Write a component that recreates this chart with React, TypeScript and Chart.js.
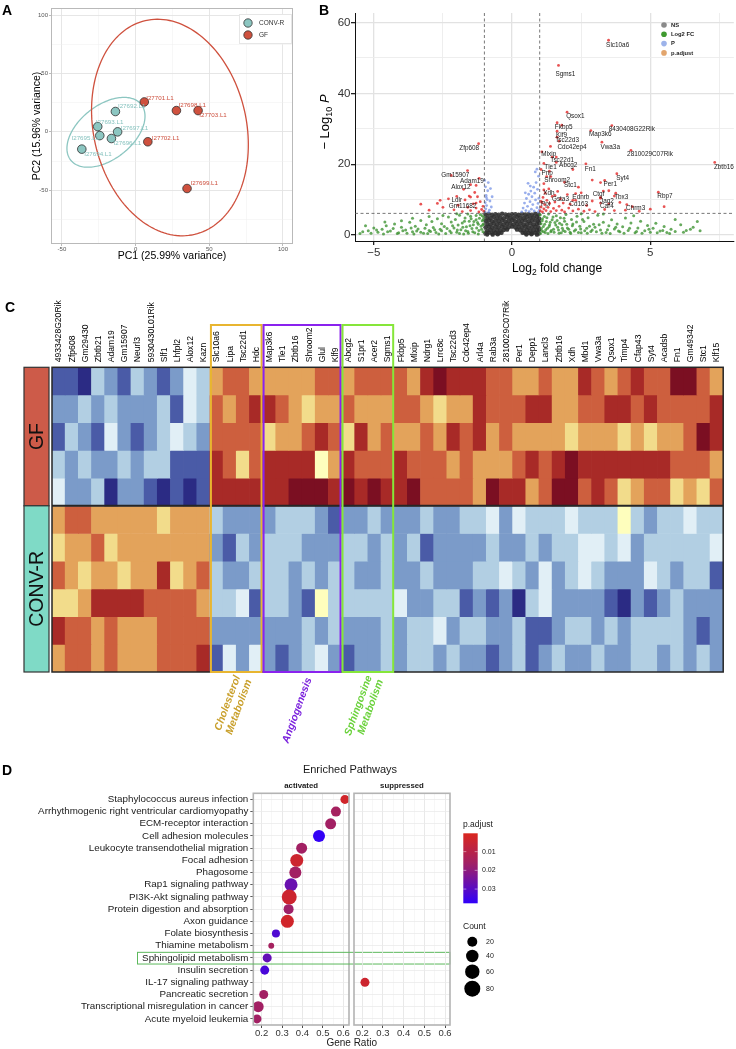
import React, { useEffect, useRef } from "react";
import { Chart, registerables } from "chart.js";

Chart.register(...registerables);

const FONT = '"Liberation Sans", Arial, Helvetica, sans-serif';

/* ================= Panel A : PCA ================= */
const PCA_CONV_NAMES = ["I27692.L1", "I27693.L1", "I27695.L1", "I27697.L1", "I27696.L1", "I27694.L1"];
const PCA_CONV_PC1 = [-13.7, -25.7, -24.3, -12.2, -16.4, -36.5];
const PCA_CONV_PC2 = [17.4, 4.5, -3.2, 0.0, -5.7, -14.8];
const PCA_CONV_LABEL_X = [-12.0, -27.0, -43.5, -10.1, -14.9, -34.9];
const PCA_CONV_LABEL_Y = [21.6, 8.3, -5.7, 3.2, -10.0, -19.1];
const PCA_GF_NAMES = ["I27701.L1", "I27698.L1", "I27703.L1", "I27702.L1", "I27699.L1"];
const PCA_GF_PC1 = [5.9, 27.7, 42.4, 8.3, 34.9];
const PCA_GF_PC2 = [25.6, 18.2, 18.2, -8.5, -48.5];
const PCA_GF_LABEL_X = [7.2, 29.1, 43.2, 11.0, 37.2];
const PCA_GF_LABEL_Y = [28.8, 22.5, 14.3, -5.1, -43.8];
const PCA_X_TICKS = [-50, -25, 0, 25, 50, 75, 100];
const PCA_Y_TICKS = [-75, -50, -25, 0, 25, 50, 75, 100];
const PCA_GROUPS = ["CONV-R", "GF"];
// confidence ellipses: centre and two semi-axis vectors (data units)
const ELLIPSE_CONV = { cx: -20.1, cy: -0.4, ax: 24.0, ay: 23.7, bx: 11.2, by: -18.2 };
const ELLIPSE_GF = { cx: 23.3, cy: 3.7, ax: 16.7, ay: -91.5, bx: 50.5, by: 14.8 };

const TEAL = "#8cc6c1";
const TEAL_TXT = "#86c2be";
const RED = "#cf513e";
const RED_TXT = "#cd4e3c";

/* ================= Panel B : volcano ================= */
const VOLC_X_TICKS = [-5, -2.5, 0, 2.5, 5, 7.5];
const VOLC_Y_TICKS = [0, 10, 20, 30, 40, 50, 60];
const FC_CUTOFF = 1;
const P_CUTOFF = 6.1;
const VOLC_LEGEND = ["NS", "Log2 FC", "P", "p.adjust"];
const VOLC_LEGEND_COLORS = ["#8a8a8a", "#3f9a2f", "#9db3ea", "#e2a56d"];

const NS_POINTS = [
  [-0.96, 5.8], [-0.84, 5.95], [-0.72, 5.7], [-0.6, 5.9], [-0.48, 5.75], [-0.36, 6.0], [-0.24, 5.8], [-0.12, 5.7], [0.0, 5.9],
  [0.12, 5.85], [0.24, 5.7], [0.36, 5.95], [0.48, 5.8], [0.6, 5.9], [0.72, 5.75], [0.84, 6.0], [0.96, 5.8],
  [-0.9, 4.9], [-0.78, 4.8], [-0.66, 5.05], [-0.54, 4.85], [-0.42, 4.95], [-0.3, 4.75], [-0.18, 5.0], [-0.06, 4.9], [0.06, 4.8],
  [0.18, 5.05], [0.3, 4.9], [0.42, 4.8], [0.54, 5.0], [0.66, 4.85], [0.78, 4.95], [0.9, 5.1], [0.98, 4.6],
  [-0.96, 4.0], [-0.84, 4.1], [-0.72, 3.9], [-0.6, 4.05], [-0.48, 3.95], [-0.36, 4.1], [-0.24, 3.85], [-0.12, 4.0], [0.0, 4.15],
  [0.12, 3.9], [0.24, 4.05], [0.36, 3.95], [0.48, 4.1], [0.6, 3.9], [0.72, 4.0], [0.84, 4.05], [0.96, 3.9],
  [-0.9, 3.1], [-0.78, 3.0], [-0.66, 3.2], [-0.54, 3.05], [-0.42, 3.15], [-0.3, 2.95], [-0.18, 3.1], [-0.06, 3.2], [0.06, 3.0],
  [0.18, 3.1], [0.3, 3.15], [0.42, 2.95], [0.54, 3.05], [0.66, 3.2], [0.78, 3.0], [0.9, 3.1], [0.98, 3.3],
  [-0.96, 2.2], [-0.84, 2.3], [-0.72, 2.1], [-0.6, 2.25], [-0.48, 2.15], [-0.36, 2.3], [-0.24, 2.05], [-0.12, 2.2], [0.0, 2.35],
  [0.12, 2.1], [0.24, 2.25], [0.36, 2.15], [0.48, 2.3], [0.6, 2.1], [0.72, 2.2], [0.84, 2.25], [0.96, 2.1],
  [-0.9, 1.3], [-0.78, 1.4], [-0.66, 1.2], [-0.54, 1.35], [-0.42, 1.25], [-0.3, 1.4], [-0.18, 1.5], [0.18, 1.5], [0.3, 1.35],
  [0.42, 1.25], [0.54, 1.4], [0.66, 1.2], [0.78, 1.3], [0.9, 1.35], [0.98, 1.5],
  [-0.96, 0.5], [-0.84, 0.6], [-0.72, 0.45], [-0.6, 0.55], [-0.48, 0.5], [-0.38, 0.65], [0.38, 0.6], [0.48, 0.5], [0.6, 0.55],
  [0.72, 0.45], [0.84, 0.6], [0.96, 0.5], [-0.9, 0.15], [-0.7, 0.1], [-0.52, 0.2], [0.52, 0.15], [0.7, 0.2], [0.9, 0.1],
];

const FC_POINTS = [
  [-5.2, 1.2], [-5.0, 2.0], [-4.85, 0.8], [-4.7, 1.6], [-4.55, 2.6], [-4.4, 1.1], [-4.25, 3.1], [-4.1, 0.6], [-4.0, 2.2],
  [-3.85, 1.4], [-3.7, 3.6], [-3.6, 0.9], [-3.5, 2.5], [-3.4, 1.7], [-3.3, 4.1], [-3.2, 0.5], [-3.1, 2.9], [-3.0, 1.3],
  [-2.9, 3.8], [-2.85, 2.1], [-2.75, 0.7], [-2.7, 4.6], [-2.6, 1.6], [-2.55, 3.2], [-2.45, 2.4], [-2.4, 0.4], [-2.3, 5.1],
  [-2.25, 1.1], [-2.2, 3.7], [-2.1, 2.0], [-2.05, 4.4], [-2.0, 0.8], [-1.95, 2.8], [-1.9, 5.6], [-1.85, 1.5], [-1.8, 3.4],
  [-1.75, 0.3], [-1.7, 4.8], [-1.65, 2.3], [-1.6, 1.0], [-1.55, 3.9], [-1.5, 5.3], [-1.45, 1.8], [-1.4, 2.9], [-1.35, 0.6],
  [-1.3, 4.3], [-1.25, 3.5], [-1.2, 1.3], [-1.15, 5.8], [-1.12, 2.5], [-1.08, 4.0], [-1.05, 0.9], [-1.03, 3.1], [-1.02, 5.0],
  [-1.6, 5.9], [-2.5, 5.5], [-3.0, 5.2], [-2.0, 6.0], [-1.3, 5.5], [-3.6, 4.7], [-4.0, 4.0], [-4.6, 3.7], [-5.4, 0.9], [-5.3, 2.6],
  [-5.5, 0.4], [-5.1, 0.5], [-4.9, 1.4], [-4.65, 0.3], [-4.5, 0.9], [-4.3, 1.8], [-4.15, 0.4], [-3.95, 1.2], [-3.8, 0.5],
  [-3.65, 2.0], [-3.55, 0.3], [-3.45, 1.1], [-3.3, 0.8], [-3.15, 1.9], [-3.05, 0.4], [-2.95, 1.0], [-2.8, 1.5], [-2.65, 0.3],
  [-2.55, 1.2], [-2.35, 1.8], [-2.2, 0.6], [-2.15, 2.6], [-1.98, 1.4], [-1.9, 0.4], [-1.78, 2.2], [-1.68, 1.2], [-1.58, 0.5],
  [-1.52, 2.6], [-1.42, 0.9], [-1.38, 3.8], [-1.28, 2.0], [-1.22, 0.3], [-1.18, 4.7], [-1.1, 1.6], [-1.06, 2.9], [-1.04, 4.4],
  [-1.08, 5.4], [-1.22, 3.0], [-1.48, 4.6], [-1.72, 3.9],
  [1.02, 5.7], [1.05, 3.2], [1.08, 1.1], [1.1, 4.6], [1.13, 2.4], [1.17, 5.2], [1.2, 0.7], [1.24, 3.8], [1.28, 1.9],
  [1.32, 5.9], [1.36, 2.9], [1.4, 0.9], [1.45, 4.3], [1.5, 1.6], [1.55, 3.5], [1.6, 5.4], [1.65, 2.2], [1.7, 0.5],
  [1.75, 4.9], [1.8, 2.9], [1.85, 1.3], [1.9, 3.9], [1.95, 5.8], [2.0, 2.0], [2.1, 0.8], [2.15, 4.4], [2.2, 3.1],
  [2.3, 1.5], [2.35, 5.3], [2.45, 2.5], [2.5, 0.6], [2.6, 3.8], [2.7, 1.9], [2.75, 4.9], [2.85, 1.0], [2.95, 3.0],
  [3.0, 2.2], [3.1, 5.6], [3.2, 1.4], [3.3, 3.6], [3.4, 0.7], [3.5, 2.6], [3.6, 4.3], [3.7, 1.7], [3.8, 3.1],
  [3.9, 0.9], [4.0, 2.3], [4.1, 4.8], [4.2, 1.3], [4.3, 3.4], [4.45, 0.6], [4.55, 2.0], [4.65, 3.9], [4.8, 1.2],
  [4.9, 2.7], [5.0, 0.8], [5.1, 1.9], [5.2, 3.3], [5.35, 1.1], [5.5, 2.4], [5.6, 0.7], [5.75, 1.6], [6.1, 2.9],
  [6.3, 1.3], [6.55, 2.2], [6.7, 3.8], [5.9, 4.4], [4.4, 5.4], [3.3, 5.9], [2.5, 6.0],
  [1.03, 0.4], [1.06, 1.8], [1.09, 4.0], [1.14, 0.9], [1.18, 3.0], [1.22, 1.5], [1.26, 4.9], [1.3, 0.4], [1.34, 2.4],
  [1.38, 3.6], [1.42, 1.3], [1.48, 5.1], [1.52, 0.8], [1.58, 2.8], [1.63, 4.1], [1.68, 1.4], [1.72, 3.3], [1.78, 0.6],
  [1.82, 1.9], [1.88, 4.7], [1.92, 1.0], [1.98, 3.0], [2.05, 1.6], [2.12, 0.4], [2.18, 2.6], [2.25, 1.1], [2.33, 3.7],
  [2.4, 0.7], [2.48, 1.7], [2.55, 4.4], [2.63, 1.2], [2.72, 0.5], [2.8, 2.5], [2.9, 1.4], [3.05, 0.9], [3.15, 2.9],
  [3.25, 0.5], [3.45, 1.5], [3.55, 0.4], [3.75, 2.2], [3.85, 1.1], [4.05, 0.5], [4.25, 1.9], [4.5, 1.0], [4.7, 0.5],
  [4.95, 1.6], [5.25, 0.6], [5.45, 1.3], [5.7, 0.4], [5.9, 1.0], [6.2, 0.8], [6.45, 1.6], [6.8, 1.2],
];

const P_POINTS = [
  [-0.98, 6.6], [-0.95, 7.4], [-0.92, 8.3], [-0.97, 9.1], [-0.9, 10.0], [-0.94, 11.2], [-0.88, 12.5], [-0.96, 13.6],
  [-0.86, 14.8], [-0.99, 15.4], [-0.82, 7.0], [-0.8, 9.6], [-0.78, 13.1], [-0.75, 7.9], [-0.72, 10.8], [-0.85, 6.4], [-0.93, 10.6],
  [0.35, 6.5], [0.4, 7.6], [0.45, 9.0], [0.5, 6.9], [0.52, 10.3], [0.56, 8.1], [0.6, 11.5], [0.62, 6.6], [0.65, 9.4],
  [0.68, 12.4], [0.7, 7.3], [0.72, 10.8], [0.75, 8.6], [0.78, 13.5], [0.8, 6.8], [0.82, 11.8], [0.85, 9.9], [0.87, 14.8],
  [0.9, 7.7], [0.92, 12.9], [0.94, 8.9], [0.96, 16.6], [0.97, 10.4], [0.99, 7.1], [0.84, 17.8], [0.9, 18.6], [0.58, 14.6],
  [0.66, 13.8], [0.48, 11.9], [0.95, 6.5],
];

const ADJ_POINTS = [
  [1.02, 6.8], [1.05, 7.9], [1.08, 9.2], [1.1, 6.5], [1.12, 10.6], [1.15, 7.4], [1.18, 8.6], [1.2, 11.8], [1.23, 6.9],
  [1.26, 9.8], [1.3, 7.8], [1.33, 13.0], [1.36, 8.9], [1.4, 6.6], [1.45, 10.9], [1.5, 7.5], [1.55, 9.3], [1.6, 6.9],
  [1.65, 12.3], [1.7, 8.1], [1.75, 10.2], [1.8, 7.0], [1.85, 9.0], [1.9, 6.5], [2.0, 11.4], [2.05, 7.6], [2.1, 8.7],
  [2.2, 6.8], [2.3, 9.8], [2.4, 7.3], [2.5, 11.9], [2.6, 6.7], [2.7, 8.3], [2.8, 7.1], [2.9, 9.6], [3.0, 6.6],
  [3.2, 10.4], [3.35, 7.2], [3.5, 8.8], [3.7, 6.9], [3.9, 9.2], [4.1, 7.0], [4.35, 8.0], [4.6, 6.7], [5.0, 7.3],
  [5.5, 8.0], [1.15, 14.5], [1.25, 16.5], [1.35, 18.0], [1.6, 22.0], [1.7, 26.5], [1.8, 31.0], [2.2, 18.5], [2.4, 13.5],
  [2.9, 15.5], [3.2, 14.8], [3.5, 12.5], [3.7, 11.0],
  [-1.02, 6.7], [-1.05, 8.1], [-1.1, 7.2], [-1.15, 9.4], [-1.2, 6.5], [-1.25, 10.8], [-1.3, 7.6], [-1.4, 8.8], [-1.5, 6.9],
  [-1.6, 7.8], [-1.7, 9.9], [-1.8, 6.6], [-1.95, 8.4], [-2.1, 7.1], [-2.3, 10.2], [-2.5, 7.8], [-2.7, 8.9], [-3.0, 7.0],
  [-3.3, 8.7], [-1.35, 12.0], [-1.55, 11.0], [-1.75, 12.9], [-2.0, 10.9], [-2.2, 16.8], [-2.6, 9.8], [-1.3, 14.0],
];

const VOLC_GENES = ["Slc10a6", "Sgms1", "Qsox1", "Fkbp5", "Klf9", "Tsc22d3", "Cdc42ep4", "Map3k6", "8430408G22Rik", "Vwa3a",
  "2810029C07Rik", "Zbtb16", "Mlxip", "Tsc22d1", "Abcg2", "Tle1", "Fn1", "Pnp", "Shroom2", "Stc1", "Syt4", "Per1", "Xdh",
  "Gsta3", "Ednrb", "Cd163", "Ctgf", "Tbx3", "Jag2", "Car4", "Chrm3", "Rbp7", "Ppl", "Zfp608", "Gm15907", "Adam19", "Alox12",
  "Ldlr", "Gm11682"];
const VOLC_GENE_X = [3.49, 1.68, 1.99, 1.63, 1.63, 1.63, 1.39, 2.85, 3.61, 3.25, 4.30, 7.33, 1.08, 1.45, 1.6, 1.15, 2.67, 1.05,
  1.4, 1.9, 3.79, 3.35, 1.15, 1.55, 2.3, 2.2, 3.3, 3.75, 3.2, 3.2, 4.15, 5.29, 1.05, -1.21, -1.61, -1.19, -1.5, -1.5, -1.3];
const VOLC_GENE_Y = [55.0, 47.9, 34.7, 31.7, 29.3, 27.6, 25.0, 29.5, 30.9, 26.2, 23.9, 20.5, 23.5, 22.0, 20.5, 20.2, 20.1, 18.5,
  16.5, 14.9, 17.3, 15.4, 12.7, 11.2, 11.7, 9.8, 12.4, 11.8, 10.6, 9.0, 8.6, 12.1, 9.5, 25.8, 18.2, 16.0, 14.2, 10.7, 9.0];
const VOLC_LABEL_X = [3.82, 1.93, 2.29, 1.87, 1.79, 1.99, 2.17, 3.19, 4.33, 3.55, 4.99, 7.66, 1.33, 1.81, 2.03, 1.39, 2.83, 1.27,
  1.63, 2.11, 4.0, 3.55, 1.33, 1.75, 2.49, 2.41, 3.13, 3.95, 3.43, 3.43, 4.47, 5.53, 1.21, -1.55, -2.05, -1.45, -1.85, -2.0, -1.79];
const VOLC_LABEL_Y = [53.7, 45.4, 33.4, 30.4, 28.1, 26.7, 24.8, 28.4, 29.8, 24.9, 22.7, 19.2, 22.7, 21.0, 19.7, 19.2, 18.7, 17.5,
  15.6, 14.0, 15.9, 14.2, 11.8, 10.2, 10.7, 8.8, 11.5, 10.6, 9.6, 8.0, 7.6, 10.9, 8.7, 24.4, 17.0, 15.1, 13.4, 9.9, 8.0];

/* ================= Panel C : heatmap ================= */
const HEAT_GENES = ["4933428G20Rik", "Zfp608", "Gm29430", "Zbtb21", "Adam19", "Gm15907", "Neurl3", "5930430L01Rik", "Slf1",
  "Lhfpl2", "Alox12", "Kazn", "Slc10a6", "Lipa", "Tsc22d1", "Hdc", "Map3k6", "Tle1", "Zbtb16", "Shroom2", "Glul", "Klf9",
  "Abcg2", "S1pr1", "Acer2", "Sgms1", "Fkbp5", "Mlxip", "Ndrg1", "Lrrc8c", "Tsc22d3", "Cdc42ep4", "Arl4a", "Rab3a",
  "2810029C07Rik", "Per1", "Depp1", "Lancl3", "Zbtb16", "Xdh", "Mbd1", "Vwa3a", "Qsox1", "Timp4", "Cfap43", "Syt4", "Acadsb",
  "Fn1", "Gm49342", "Stc1", "Klf15"];
// scaled expression, binned to levels -5 (dark blue) .. +5 (dark red)
const GF_ROW_1 = [-4, -4, -5, -2, -3, -4, -2, -3, -4, -3, -1, -2, 2, 3, 3, 2, 2, 2, 2, 2, 3, 3, 2, 3, 3, 3,
  3, 2, 4, 5, 4, 4, 4, 3, 3, 2, 2, 3, 2, 2, 4, 3, 2, 3, 4, 3, 3, 5, 5, 3, 2];
const GF_ROW_2 = [-3, -3, -2, -3, -2, -3, -3, -3, -2, -4, -1, -2, 3, 2, 3, 4, 4, 3, 2, 1, 2, 2, 3, 2, 2, 2,
  3, 3, 2, 1, 2, 2, 4, 3, 3, 3, 4, 4, 2, 2, 3, 3, 4, 4, 3, 4, 3, 3, 3, 3, 4];
const GF_ROW_3 = [-4, -2, -3, -4, -1, -3, -4, -3, -2, -1, -2, -3, 3, 3, 3, 3, 1, 2, 2, 3, 4, 3, 1, 4, 2, 3,
  2, 2, 3, 2, 4, 3, 4, 2, 3, 2, 2, 2, 2, 1, 2, 2, 2, 1, 2, 1, 2, 2, 3, 5, 4];
const GF_ROW_4 = [-2, -3, -2, -3, -3, -2, -3, -2, -2, -4, -4, -4, 4, 3, 1, 3, 4, 4, 4, 4, 0, 2, 4, 3, 3, 3,
  4, 3, 3, 3, 2, 3, 2, 2, 2, 3, 4, 3, 4, 5, 4, 4, 4, 4, 4, 4, 4, 3, 3, 3, 2];
const GF_ROW_5 = [-1, -3, -3, -2, -5, -3, -3, -4, -5, -4, -5, -4, 4, 4, 4, 4, 4, 4, 5, 5, 5, 4, 5, 4, 5, 4,
  4, 5, 3, 3, 3, 3, 2, 5, 4, 4, 2, 3, 5, 5, 3, 4, 3, 1, 2, 3, 3, 1, 2, 1, 3];
const CONVR_ROW_1 = [2, 3, 3, 2, 2, 2, 2, 2, 1, 2, 2, 2, -2, -3, -3, -3, -3, -2, -2, -2, -3, -4, -3, -3, -2, -3,
  -3, -3, -2, -3, -3, -2, -2, -1, -3, -1, -2, -2, -2, -1, -2, -2, -2, 0, -2, -3, -2, -2, -1, -2, -2];
const CONVR_ROW_2 = [1, 2, 2, 3, 1, 2, 2, 2, 2, 2, 2, 2, -3, -4, -2, -3, -2, -2, -2, -3, -3, -3, -2, -2, -3, -2,
  -3, -2, -4, -3, -3, -3, -3, -2, -3, -3, -2, -3, -2, -2, -1, -1, -2, -1, -3, -2, -2, -2, -2, -2, -1];
const CONVR_ROW_3 = [3, 2, 1, 2, 2, 1, 2, 2, 4, 1, 2, 3, -2, -3, -3, -2, -2, -2, -3, -2, -3, -2, -2, -3, -3, -2,
  -3, -3, -2, -3, -3, -3, -2, -2, -1, -2, -3, -1, -3, -2, -1, -2, -3, -3, -3, -1, -2, -3, -2, -2, -4];
const CONVR_ROW_4 = [1, 1, 2, 4, 4, 4, 4, 3, 3, 3, 3, 2, -2, -2, -1, -4, -2, -2, -3, -4, 0, -2, -2, -2, -2, -2,
  -1, -3, -3, -2, -2, -4, -3, -4, -3, -5, -2, -1, -3, -3, -3, -3, -4, -5, -3, -4, -3, -2, -3, -3, -3];
const CONVR_ROW_5 = [4, 3, 3, 2, 3, 2, 2, 2, 3, 3, 3, 3, -3, -3, -3, -3, -3, -3, -3, -2, -3, -2, -3, -3, -3, -2,
  -3, -2, -2, -1, -3, -2, -2, -3, -3, -2, -4, -4, -3, -2, -2, -3, -2, -3, -2, -2, -2, -2, -3, -4, -3];
const CONVR_ROW_6 = [2, 3, 3, 2, 3, 2, 2, 2, 3, 3, 3, 4, -4, -1, -3, -1, -3, -4, -3, -2, -1, -3, -4, -3, -3, -2,
  -3, -2, -2, -3, -2, -3, -3, -4, -3, -2, -4, -3, -2, -3, -3, -2, -3, -3, -2, -2, -3, -2, -3, -2, -3];
const GF_ROWS = [GF_ROW_1, GF_ROW_2, GF_ROW_3, GF_ROW_4, GF_ROW_5];
const CONVR_ROWS = [CONVR_ROW_1, CONVR_ROW_2, CONVR_ROW_3, CONVR_ROW_4, CONVR_ROW_5, CONVR_ROW_6];
const HEAT_COLORS = ["#2b2b84", "#4a5ba7", "#7b9bc9", "#b2cfe3", "#e1eff6", "#fefebd", "#f2dc8b", "#e3a35b", "#cd5f3e",
  "#a82a27", "#7b0f22"];
const GROUP_NAMES = ["Cholesterol\nMetabolism", "Angiogenesis", "Sphingosine\nMetabolism"];
const GROUP_START = [12, 16, 22];
const GROUP_END = [15, 21, 25];
const GROUP_BOX_COLORS = ["#e8b530", "#8a22ee", "#86e639"];
const GROUP_TEXT_COLORS = ["#c9a02c", "#7b22dd", "#6bd23c"];

/* ================= Panel D : enriched pathways ================= */
const PATHWAYS = ["Staphylococcus aureus infection", "Arrhythmogenic right ventricular cardiomyopathy",
  "ECM-receptor interaction", "Cell adhesion molecules", "Leukocyte transendothelial migration", "Focal adhesion",
  "Phagosome", "Rap1 signaling pathway", "PI3K-Akt signaling pathway", "Protein digestion and absorption",
  "Axon guidance", "Folate biosynthesis", "Thiamine metabolism", "Sphingolipid metabolism", "Insulin secretion",
  "IL-17 signaling pathway", "Pancreatic secretion", "Transcriptional misregulation in cancer", "Acute myeloid leukemia"];
const PATHWAY_GROUP = ["activated", "activated", "activated", "activated", "activated", "activated", "activated",
  "activated", "activated", "activated", "activated", "activated", "activated", "activated", "activated",
  "suppressed", "activated", "activated", "activated"];
const GENE_RATIO = [0.608, 0.564, 0.538, 0.481, 0.396, 0.372, 0.365, 0.344, 0.335, 0.332, 0.326, 0.270, 0.247, 0.227,
  0.215, 0.213, 0.210, 0.183, 0.177];
const GENE_COUNT = [14, 20, 27, 36, 27, 45, 36, 45, 67, 20, 45, 9, 2, 14, 14, 14, 14, 27, 14];
const P_ADJUST = [0.003, 0.015, 0.016, 0.037, 0.016, 0.004, 0.016, 0.027, 0.004, 0.017, 0.003, 0.032, 0.015, 0.028,
  0.033, 0.004, 0.016, 0.016, 0.016];
const GR_TICKS = [0.2, 0.25, 0.3, 0.35, 0.4, 0.45, 0.5, 0.55, 0.6];
const PADJ_LEGEND = [0.01, 0.02, 0.03];
const COUNT_LEGEND = [20, 40, 60, 80];
const HIGHLIGHT_PATHWAY = "Sphingolipid metabolism";
const PADJ_MIN = 0.0002;
const PADJ_MAX = 0.0376;

/* ---------- helpers ---------- */
function sizeFor(count) {
  return 2 + 0.67 * Math.sqrt(count);
}
const PADJ_STOPS = [
  [0, [218, 38, 30]],
  [0.45, [158, 32, 104]],
  [1, [48, 0, 250]],
];
function colorFor(p) {
  let t = (p - PADJ_MIN) / (PADJ_MAX - PADJ_MIN);
  t = Math.max(0, Math.min(1, t));
  for (let i = 0; i < PADJ_STOPS.length - 1; i++) {
    const [t0, c0] = PADJ_STOPS[i];
    const [t1, c1] = PADJ_STOPS[i + 1];
    if (t <= t1) {
      const f = (t - t0) / (t1 - t0);
      const c = c0.map((v, k) => Math.round(v + (c1[k] - v) * f));
      return `rgb(${c[0]},${c[1]},${c[2]})`;
    }
  }
  return "rgb(48,0,250)";
}
const isMult = (v, m) => Math.abs(v / m - Math.round(v / m)) < 1e-6;

function drawRich(ctx, parts, cx, cy, angle) {
  let total = 0;
  parts.forEach((p) => {
    ctx.font = `${p.style || ""} ${p.size}px ${FONT}`;
    p.w = ctx.measureText(p.t).width;
    total += p.w;
  });
  ctx.save();
  ctx.translate(cx, cy);
  ctx.rotate(angle);
  ctx.textAlign = "left";
  ctx.textBaseline = "alphabetic";
  ctx.fillStyle = "#000";
  let xx = -total / 2;
  parts.forEach((p) => {
    ctx.font = `${p.style || ""} ${p.size}px ${FONT}`;
    ctx.fillText(p.t, xx, p.dy);
    xx += p.w;
  });
  ctx.restore();
}

/* ---------- Panel A config ---------- */
function drawEllipse(ctx, xs, ys, e, color) {
  ctx.beginPath();
  for (let k = 0; k <= 160; k++) {
    const t = (k / 160) * Math.PI * 2;
    const dx = e.cx + Math.cos(t) * e.ax + Math.sin(t) * e.bx;
    const dy = e.cy + Math.cos(t) * e.ay + Math.sin(t) * e.by;
    const px = xs.getPixelForValue(dx);
    const py = ys.getPixelForValue(dy);
    if (k === 0) ctx.moveTo(px, py);
    else ctx.lineTo(px, py);
  }
  ctx.strokeStyle = color;
  ctx.lineWidth = 1.3;
  ctx.stroke();
}

const pcaPlugin = {
  id: "pcaDecor",
  beforeDatasetsDraw(chart) {
    const { ctx, chartArea: ca, scales } = chart;
    ctx.save();
    ctx.beginPath();
    ctx.rect(ca.left, ca.top, ca.right - ca.left, ca.bottom - ca.top);
    ctx.clip();
    drawEllipse(ctx, scales.x, scales.y, ELLIPSE_CONV, TEAL);
    drawEllipse(ctx, scales.x, scales.y, ELLIPSE_GF, RED);
    ctx.restore();
  },
  afterDatasetsDraw(chart) {
    const { ctx, scales } = chart;
    ctx.save();
    ctx.font = `6.2px ${FONT}`;
    ctx.textAlign = "left";
    ctx.textBaseline = "middle";
    ctx.fillStyle = TEAL_TXT;
    PCA_CONV_NAMES.forEach((n, i) =>
      ctx.fillText(n, scales.x.getPixelForValue(PCA_CONV_LABEL_X[i]), scales.y.getPixelForValue(PCA_CONV_LABEL_Y[i])));
    ctx.fillStyle = RED_TXT;
    PCA_GF_NAMES.forEach((n, i) =>
      ctx.fillText(n, scales.x.getPixelForValue(PCA_GF_LABEL_X[i]), scales.y.getPixelForValue(PCA_GF_LABEL_Y[i])));
    ctx.restore();
  },
  afterDraw(chart) {
    const { ctx, chartArea: ca } = chart;
    ctx.save();
    ctx.strokeStyle = "#b9b9b9";
    ctx.lineWidth = 1;
    ctx.strokeRect(ca.left + 0.5, ca.top + 0.5, ca.right - ca.left - 1, ca.bottom - ca.top - 1);
    // legend
    ctx.fillStyle = "#fff";
    ctx.fillRect(239, 14, 53, 30);
    ctx.strokeStyle = "#e6e6e6";
    ctx.strokeRect(239.5, 14.5, 52, 29);
    const cols = [TEAL, RED];
    PCA_GROUPS.forEach((g, i) => {
      const cy = 23 + i * 12;
      ctx.beginPath();
      ctx.arc(248, cy, 4.2, 0, Math.PI * 2);
      ctx.fillStyle = cols[i];
      ctx.fill();
      ctx.strokeStyle = "#333";
      ctx.lineWidth = 0.8;
      ctx.stroke();
      ctx.fillStyle = "#333";
      ctx.font = `6.5px ${FONT}`;
      ctx.textAlign = "left";
      ctx.textBaseline = "middle";
      ctx.fillText(g, 259, cy);
    });
    ctx.restore();
  },
};

function makePcaConfig() {
  const conv = PCA_CONV_PC1.map((x, i) => ({ x, y: PCA_CONV_PC2[i] }));
  const gf = PCA_GF_PC1.map((x, i) => ({ x, y: PCA_GF_PC2[i] }));
  const tickFont = { family: FONT, size: 6 };
  return {
    type: "scatter",
    data: {
      datasets: [
        { label: "CONV-R", data: conv, backgroundColor: TEAL, borderColor: "#2e2e2e", borderWidth: 0.8, pointRadius: 4.3 },
        { label: "GF", data: gf, backgroundColor: RED, borderColor: "#2e2e2e", borderWidth: 0.8, pointRadius: 4.3 },
      ],
    },
    options: {
      animation: false,
      responsive: false,
      devicePixelRatio: 1,
      events: [],
      layout: { padding: { top: 8, right: 7, left: 0, bottom: 0 } },
      plugins: { legend: { display: false }, tooltip: { enabled: false } },
      scales: {
        x: {
          type: "linear",
          min: -57.4,
          max: 106.8,
          afterBuildTicks: (s) => { s.ticks = PCA_X_TICKS.map((v) => ({ value: v })); },
          afterFit: (s) => { s.height = 26; },
          ticks: { callback: (v) => (isMult(v, 50) ? String(v) : ""), font: tickFont, color: "#555", padding: 0, maxRotation: 0, autoSkip: false },
          grid: {
            color: (c) => (c.tick && isMult(c.tick.value, 50) ? "#e3e3e3" : "#efefef"),
            lineWidth: (c) => (c.tick && isMult(c.tick.value, 50) ? 0.9 : 0.5),
            tickLength: 2,
            tickColor: (c) => (c.tick && isMult(c.tick.value, 50) ? "#b3b3b3" : "rgba(0,0,0,0)"),
          },
          border: { display: false },
          title: { display: true, text: "PC1 (25.99% variance)", font: { family: FONT, size: 10.5 }, color: "#000", padding: { top: 0, bottom: 7.7 } },
        },
        y: {
          type: "linear",
          min: -96,
          max: 106,
          afterBuildTicks: (s) => { s.ticks = PCA_Y_TICKS.map((v) => ({ value: v })); },
          afterFit: (s) => { s.width = 51; },
          ticks: { callback: (v) => (isMult(v, 50) ? String(v) : ""), font: tickFont, color: "#555", padding: 1, autoSkip: false },
          grid: {
            color: (c) => (c.tick && isMult(c.tick.value, 50) ? "#e3e3e3" : "#efefef"),
            lineWidth: (c) => (c.tick && isMult(c.tick.value, 50) ? 0.9 : 0.5),
            tickLength: 2,
            tickColor: (c) => (c.tick && isMult(c.tick.value, 50) ? "#b3b3b3" : "rgba(0,0,0,0)"),
          },
          border: { display: false },
          title: { display: true, text: "PC2 (15.96% variance)", font: { family: FONT, size: 10.5 }, color: "#000", padding: { top: 31, bottom: 0 } },
        },
      },
    },
    plugins: [pcaPlugin],
  };
}

/* ---------- Panel B config ---------- */
const volcPlugin = {
  id: "volcDecor",
  afterDatasetsDraw(chart) {
    const { ctx, chartArea: ca, scales } = chart;
    const xs = scales.x;
    const ys = scales.y;
    ctx.save();
    ctx.strokeStyle = "#555";
    ctx.lineWidth = 0.8;
    ctx.setLineDash([3, 2.5]);
    [-FC_CUTOFF, FC_CUTOFF].forEach((v) => {
      const px = xs.getPixelForValue(v);
      ctx.beginPath();
      ctx.moveTo(px, ca.top);
      ctx.lineTo(px, ca.bottom);
      ctx.stroke();
    });
    const py = ys.getPixelForValue(P_CUTOFF);
    ctx.beginPath();
    ctx.moveTo(ca.left, py);
    ctx.lineTo(ca.right, py);
    ctx.stroke();
    ctx.setLineDash([]);
    ctx.font = `6.4px ${FONT}`;
    ctx.fillStyle = "#1a1a1a";
    ctx.textAlign = "center";
    ctx.textBaseline = "middle";
    VOLC_GENES.forEach((g, i) => {
      ctx.fillText(g, xs.getPixelForValue(VOLC_LABEL_X[i]), ys.getPixelForValue(VOLC_LABEL_Y[i]));
    });
    ctx.restore();
  },
  afterDraw(chart) {
    const { ctx } = chart;
    ctx.save();
    VOLC_LEGEND.forEach((n, i) => {
      const cy = 25 + i * 9.3;
      ctx.beginPath();
      ctx.arc(364, cy, 2.8, 0, Math.PI * 2);
      ctx.fillStyle = VOLC_LEGEND_COLORS[i];
      ctx.fill();
      ctx.fillStyle = "#222";
      ctx.font = `bold 5.8px ${FONT}`;
      ctx.textAlign = "left";
      ctx.textBaseline = "middle";
      ctx.fillText(n, 371, cy);
    });
    ctx.restore();
    drawRich(ctx, [
      { t: "\u2212 Log", size: 13, dy: 4.6 },
      { t: "10", size: 9, dy: 7.5 },
      { t: " P", size: 13, style: "italic", dy: 4.6 },
    ], 24, 122, -Math.PI / 2);
    drawRich(ctx, [
      { t: "Log", size: 12, dy: 4.3 },
      { t: "2", size: 8.5, dy: 7 },
      { t: " fold change", size: 12, dy: 4.3 },
    ], 257, 268, 0);
  },
};

function makeVolcConfig() {
  const toPts = (arr) => arr.map(([x, y]) => ({ x, y }));
  const labelled = VOLC_GENE_X.map((x, i) => ({ x, y: VOLC_GENE_Y[i] }));
  const base = { pointRadius: 1.4, borderWidth: 0, pointHoverRadius: 0 };
  const tickFont = { family: FONT, size: 11.5 };
  return {
    type: "scatter",
    data: {
      datasets: [
        { ...base, label: "p.adjust", data: [...toPts(ADJ_POINTS), ...labelled], backgroundColor: "rgba(226,40,40,0.8)", order: 0 },
        { ...base, label: "P", data: toPts(P_POINTS), backgroundColor: "rgba(110,140,228,0.7)", order: 1 },
        { ...base, label: "Log2 FC", data: toPts(FC_POINTS), backgroundColor: "rgba(52,142,40,0.75)", pointRadius: 1.5, order: 2 },
        { ...base, label: "NS", data: toPts(NS_POINTS), backgroundColor: "rgba(48,48,48,0.92)", pointRadius: 2.2, order: 3 },
      ],
    },
    options: {
      animation: false,
      responsive: false,
      devicePixelRatio: 1,
      events: [],
      layout: { padding: { top: 13, right: 0, left: 0, bottom: 0 } },
      plugins: { legend: { display: false }, tooltip: { enabled: false } },
      scales: {
        x: {
          type: "linear",
          min: -5.68,
          max: 8.02,
          afterBuildTicks: (s) => { s.ticks = VOLC_X_TICKS.map((v) => ({ value: v })); },
          afterFit: (s) => { s.height = 39; },
          ticks: { callback: (v) => (isMult(v, 5) ? (v < 0 ? "\u2212" + Math.abs(v) : String(v)) : ""), font: tickFont, color: "#333", padding: 1, maxRotation: 0, autoSkip: false },
          grid: {
            color: (c) => (c.tick && isMult(c.tick.value, 5) ? "#e2e2e2" : "#ececec"),
            lineWidth: (c) => (c.tick && isMult(c.tick.value, 5) ? 1.3 : 0.9),
            tickLength: 4,
            tickColor: (c) => (c.tick && isMult(c.tick.value, 5) ? "#222" : "rgba(0,0,0,0)"),
          },
          border: { display: true, color: "#111", width: 1 },
        },
        y: {
          type: "linear",
          min: -1.7,
          max: 62.7,
          afterBuildTicks: (s) => { s.ticks = VOLC_Y_TICKS.map((v) => ({ value: v })); },
          afterFit: (s) => { s.width = 55; },
          ticks: { callback: (v) => (isMult(v, 20) ? String(v) : ""), font: tickFont, color: "#333", padding: 0.5, autoSkip: false },
          grid: {
            color: (c) => (c.tick && isMult(c.tick.value, 20) ? "#e2e2e2" : "#ececec"),
            lineWidth: (c) => (c.tick && isMult(c.tick.value, 20) ? 1.3 : 0.9),
            tickLength: 4,
            tickColor: (c) => (c.tick && isMult(c.tick.value, 20) ? "#222" : "rgba(0,0,0,0)"),
          },
          border: { display: true, color: "#111", width: 1 },
        },
      },
    },
    plugins: [volcPlugin],
  };
}

/* ---------- Panel C config ---------- */
const GROUP_BOX_TOP = 35; // canvas y of the coloured box tops
const heatPlugin = {
  id: "heatDecor",
  afterDatasetsDraw(chart) {
    const { ctx, chartArea: ca, scales } = chart;
    const xs = scales.x;
    const ys = scales.y;
    const colW = xs.getPixelForValue(1) - xs.getPixelForValue(0);
    const colLeft = (i) => xs.getPixelForValue(i) - colW / 2;
    ctx.save();
    // column labels
    ctx.fillStyle = "#000";
    ctx.font = `8.6px ${FONT}`;
    ctx.textAlign = "left";
    ctx.textBaseline = "middle";
    HEAT_GENES.forEach((g, i) => {
      ctx.save();
      ctx.translate(xs.getPixelForValue(i) + 0.5, ca.top - 5);
      ctx.rotate(-Math.PI / 2);
      ctx.fillText(g, 0, 0);
      ctx.restore();
    });
    // outline and split line
    ctx.strokeStyle = "#262626";
    ctx.lineWidth = 1.5;
    ctx.strokeRect(ca.left, ca.top, ca.right - ca.left, ca.bottom - ca.top);
    const ySplit = ys.getPixelForValue(GF_ROWS.length);
    ctx.beginPath();
    ctx.moveTo(ca.left, ySplit);
    ctx.lineTo(ca.right, ySplit);
    ctx.lineWidth = 2;
    ctx.stroke();
    // group boxes
    GROUP_START.forEach((s, k) => {
      const l = colLeft(s);
      const r = colLeft(GROUP_END[k] + 1);
      ctx.strokeStyle = GROUP_BOX_COLORS[k];
      ctx.lineWidth = 2;
      ctx.strokeRect(l + 1, GROUP_BOX_TOP, r - l - 2, ca.bottom - GROUP_BOX_TOP);
    });
    // row annotation boxes
    const annots = [
      { name: "GF", color: "#cd5b49", y0: ys.getPixelForValue(0), y1: ySplit },
      { name: "CONV-R", color: "#7fdac6", y0: ySplit, y1: ys.getPixelForValue(GF_ROWS.length + CONVR_ROWS.length) },
    ];
    annots.forEach((a) => {
      ctx.fillStyle = a.color;
      ctx.fillRect(24, a.y0, 25, a.y1 - a.y0);
      ctx.strokeStyle = "#333";
      ctx.lineWidth = 1.2;
      ctx.strokeRect(24, a.y0, 25, a.y1 - a.y0);
      ctx.save();
      ctx.translate(37, (a.y0 + a.y1) / 2);
      ctx.rotate(-Math.PI / 2);
      ctx.fillStyle = "#111";
      ctx.font = `19.5px ${FONT}`;
      ctx.textAlign = "center";
      ctx.textBaseline = "middle";
      ctx.fillText(a.name, 0, 1);
      ctx.restore();
    });
    // group labels
    const ang = (-70 * Math.PI) / 180;
    GROUP_NAMES.forEach((name, k) => {
      const cx = (colLeft(GROUP_START[k]) + colLeft(GROUP_END[k] + 1)) / 2 + 7;
      const cy = ca.bottom + 6;
      const lines = name.split("\n");
      ctx.save();
      ctx.translate(cx, cy);
      ctx.rotate(ang);
      ctx.fillStyle = GROUP_TEXT_COLORS[k];
      ctx.font = `italic bold 10.5px ${FONT}`;
      ctx.textAlign = "right";
      ctx.textBaseline = "middle";
      lines.forEach((ln, j) => ctx.fillText(ln, 0, (j - (lines.length - 1) / 2) * 12));
      ctx.restore();
    });
    ctx.restore();
  },
};

function makeHeatConfig() {
  const rows = [...GF_ROWS, ...CONVR_ROWS];
  return {
    type: "bar",
    data: {
      labels: HEAT_GENES,
      datasets: rows.map((r, i) => ({
        label: i < GF_ROWS.length ? `GF ${i + 1}` : `CONV-R ${i - GF_ROWS.length + 1}`,
        data: r.map(() => 1),
        backgroundColor: r.map((v) => HEAT_COLORS[v + 5]),
        borderWidth: 0,
        barPercentage: 1,
        categoryPercentage: 1,
        stack: "heat",
      })),
    },
    options: {
      animation: false,
      responsive: false,
      devicePixelRatio: 1,
      events: [],
      layout: { padding: { top: 77.3, right: 12.8, left: 52, bottom: 88 } },
      plugins: { legend: { display: false }, tooltip: { enabled: false } },
      scales: {
        x: { display: false, stacked: true },
        y: { display: false, stacked: true, min: 0, max: rows.length, reverse: true },
      },
    },
    plugins: [heatPlugin],
  };
}

/* ---------- Panel D configs ---------- */
function dotScales(min, max, showY) {
  return {
    x: {
      type: "linear",
      min,
      max,
      afterBuildTicks: (s) => { s.ticks = GR_TICKS.map((v) => ({ value: v })); },
      afterFit: (s) => { s.height = 24; },
      ticks: { callback: (v) => (isMult(v, 0.1) ? v.toFixed(1) : ""), font: { family: FONT, size: 9.5 }, color: "#333", padding: 0, maxRotation: 0, autoSkip: false },
      grid: {
        color: (c) => (c.tick && isMult(c.tick.value, 0.1) ? "#e6e6e6" : "#f1f1f1"),
        lineWidth: (c) => (c.tick && isMult(c.tick.value, 0.1) ? 0.9 : 0.6),
        tickLength: 3,
        tickColor: (c) => (c.tick && isMult(c.tick.value, 0.1) ? "#333" : "rgba(0,0,0,0)"),
      },
      border: { display: false },
    },
    y: {
      type: "category",
      labels: PATHWAYS,
      offset: true,
      afterFit: (s) => { s.width = showY ? 253.3 : 0; },
      ticks: showY
        ? { font: { family: FONT, size: 9.8 }, color: "#1a1a1a", padding: 2, autoSkip: false }
        : { display: false },
      grid: showY
        ? { color: "#ebebeb", lineWidth: 0.8, tickLength: 3, tickColor: "#333" }
        : { color: "#ebebeb", lineWidth: 0.8, drawTicks: false },
      border: { display: false },
    },
  };
}

function dotData(group) {
  const idx = PATHWAYS.map((_, i) => i).filter((i) => PATHWAY_GROUP[i] === group);
  return {
    datasets: [{
      label: group,
      data: idx.map((i) => ({ x: GENE_RATIO[i], y: PATHWAYS[i] })),
      pointRadius: idx.map((i) => sizeFor(GENE_COUNT[i])),
      backgroundColor: idx.map((i) => colorFor(P_ADJUST[i])),
      borderWidth: 0,
      pointHoverRadius: 0,
    }],
  };
}

function drawPanelFrame(ctx, ca, label) {
  ctx.save();
  ctx.strokeStyle = "#b3b3b3";
  ctx.lineWidth = 1.6;
  ctx.strokeRect(ca.left, ca.top, ca.right - ca.left, ca.bottom - ca.top);
  ctx.fillStyle = "#1a1a1a";
  ctx.font = `bold 7.8px ${FONT}`;
  ctx.textAlign = "center";
  ctx.textBaseline = "middle";
  ctx.fillText(label, (ca.left + ca.right) / 2, ca.top - 7.5);
  ctx.restore();
}

const dot1Plugin = {
  id: "dot1Decor",
  afterDraw(chart) {
    const { ctx, chartArea: ca, scales } = chart;
    drawPanelFrame(ctx, ca, "activated");
    ctx.save();
    ctx.fillStyle = "#1a1a1a";
    ctx.font = `11px ${FONT}`;
    ctx.textAlign = "center";
    ctx.textBaseline = "middle";
    ctx.fillText("Enriched Pathways", 350, 10);
    ctx.font = `10px ${FONT}`;
    ctx.fillText("Gene Ratio", 351.7, 283.5);
    // highlight box
    const yc = scales.y.getPixelForValue(PATHWAYS.indexOf(HIGHLIGHT_PATHWAY));
    const h = (ca.bottom - ca.top) / PATHWAYS.length;
    ctx.strokeStyle = "#5cb85c";
    ctx.lineWidth = 1;
    ctx.strokeRect(137.5, yc - h / 2 + 0.5, 450 - 137.5, h - 0.5);
    ctx.restore();
  },
};

const dot2Plugin = {
  id: "dot2Decor",
  afterDraw(chart) {
    const { ctx, chartArea: ca } = chart;
    drawPanelFrame(ctx, ca, "suppressed");
    ctx.save();
    // colour bar legend
    const bx = 463.3, bw = 14.4, by0 = 73.3, by1 = 143.3;
    const pToY = (p) => by0 + ((p - PADJ_MIN) / (PADJ_MAX - PADJ_MIN)) * (by1 - by0);
    ctx.fillStyle = "#1a1a1a";
    ctx.font = `8.5px ${FONT}`;
    ctx.textAlign = "left";
    ctx.textBaseline = "middle";
    ctx.fillText("p.adjust", 463, 65);
    const grad = ctx.createLinearGradient(0, by0, 0, by1);
    for (let k = 0; k <= 10; k++) grad.addColorStop(k / 10, colorFor(PADJ_MIN + (k / 10) * (PADJ_MAX - PADJ_MIN)));
    ctx.fillStyle = grad;
    ctx.fillRect(bx, by0, bw, by1 - by0);
    ctx.strokeStyle = "rgba(255,255,255,0.8)";
    ctx.lineWidth = 0.6;
    ctx.font = `7px ${FONT}`;
    PADJ_LEGEND.forEach((p) => {
      const yy = pToY(p);
      ctx.beginPath();
      ctx.moveTo(bx, yy); ctx.lineTo(bx + 3, yy);
      ctx.moveTo(bx + bw - 3, yy); ctx.lineTo(bx + bw, yy);
      ctx.stroke();
      ctx.fillStyle = "#1a1a1a";
      ctx.fillText(p.toFixed(2), 482, yy);
    });
    // size legend
    ctx.font = `8.5px ${FONT}`;
    ctx.fillText("Count", 463, 166.7);
    const ys = [181.7, 196, 211.7, 228.7];
    COUNT_LEGEND.forEach((c, i) => {
      ctx.beginPath();
      ctx.arc(472.3, ys[i], sizeFor(c), 0, Math.PI * 2);
      ctx.fillStyle = "#000";
      ctx.fill();
      ctx.fillStyle = "#1a1a1a";
      ctx.font = `7px ${FONT}`;
      ctx.fillText(String(c), 486, ys[i]);
    });
    ctx.restore();
  },
};

function makeDot1Config() {
  return {
    type: "scatter",
    data: dotData("activated"),
    options: {
      animation: false,
      responsive: false,
      devicePixelRatio: 1,
      events: [],
      layout: { padding: { top: 33.3, right: 387, left: 0, bottom: 0 } },
      plugins: { legend: { display: false }, tooltip: { enabled: false } },
      scales: dotScales(0.159, 0.628, true),
    },
    plugins: [dot1Plugin],
  };
}

function makeDot2Config() {
  return {
    type: "scatter",
    data: dotData("suppressed"),
    options: {
      animation: false,
      responsive: false,
      devicePixelRatio: 1,
      events: [],
      layout: { padding: { top: 33.3, right: 286, left: 354, bottom: 0 } },
      plugins: { legend: { display: false }, tooltip: { enabled: false } },
      scales: dotScales(0.16, 0.624, false),
    },
    plugins: [dot2Plugin],
  };
}

/* ---------- components ---------- */
function ChartCanvas({ left, top, width, height, make }) {
  const ref = useRef(null);
  useEffect(() => {
    const chart = new Chart(ref.current, make());
    return () => chart.destroy();
  }, []);
  return (
    <canvas
      ref={ref}
      width={width}
      height={height}
      style={{ position: "absolute", left, top, width, height }}
    />
  );
}

function PanelLetter({ text, left, top }) {
  return (
    <div style={{ position: "absolute", left, top, fontFamily: FONT, fontWeight: "bold", fontSize: 14, lineHeight: "14px", color: "#000" }}>
      {text}
    </div>
  );
}

export default function App() {
  return (
    <div style={{ position: "absolute", left: 0, top: 0, width: 736, height: 1049, background: "#fff", overflow: "hidden" }}>
      <ChartCanvas left={0} top={0} width={300} height={270} make={makePcaConfig} />
      <ChartCanvas left={300} top={0} width={436} height={280} make={makeVolcConfig} />
      <ChartCanvas left={0} top={290} width={736} height={470} make={makeHeatConfig} />
      <ChartCanvas left={0} top={760} width={736} height={289} make={makeDot1Config} />
      <ChartCanvas left={0} top={760} width={736} height={289} make={makeDot2Config} />
      <PanelLetter text="A" left={2} top={3} />
      <PanelLetter text="B" left={319} top={3} />
      <PanelLetter text="C" left={5} top={300} />
      <PanelLetter text="D" left={2} top={763} />
    </div>
  );
}
